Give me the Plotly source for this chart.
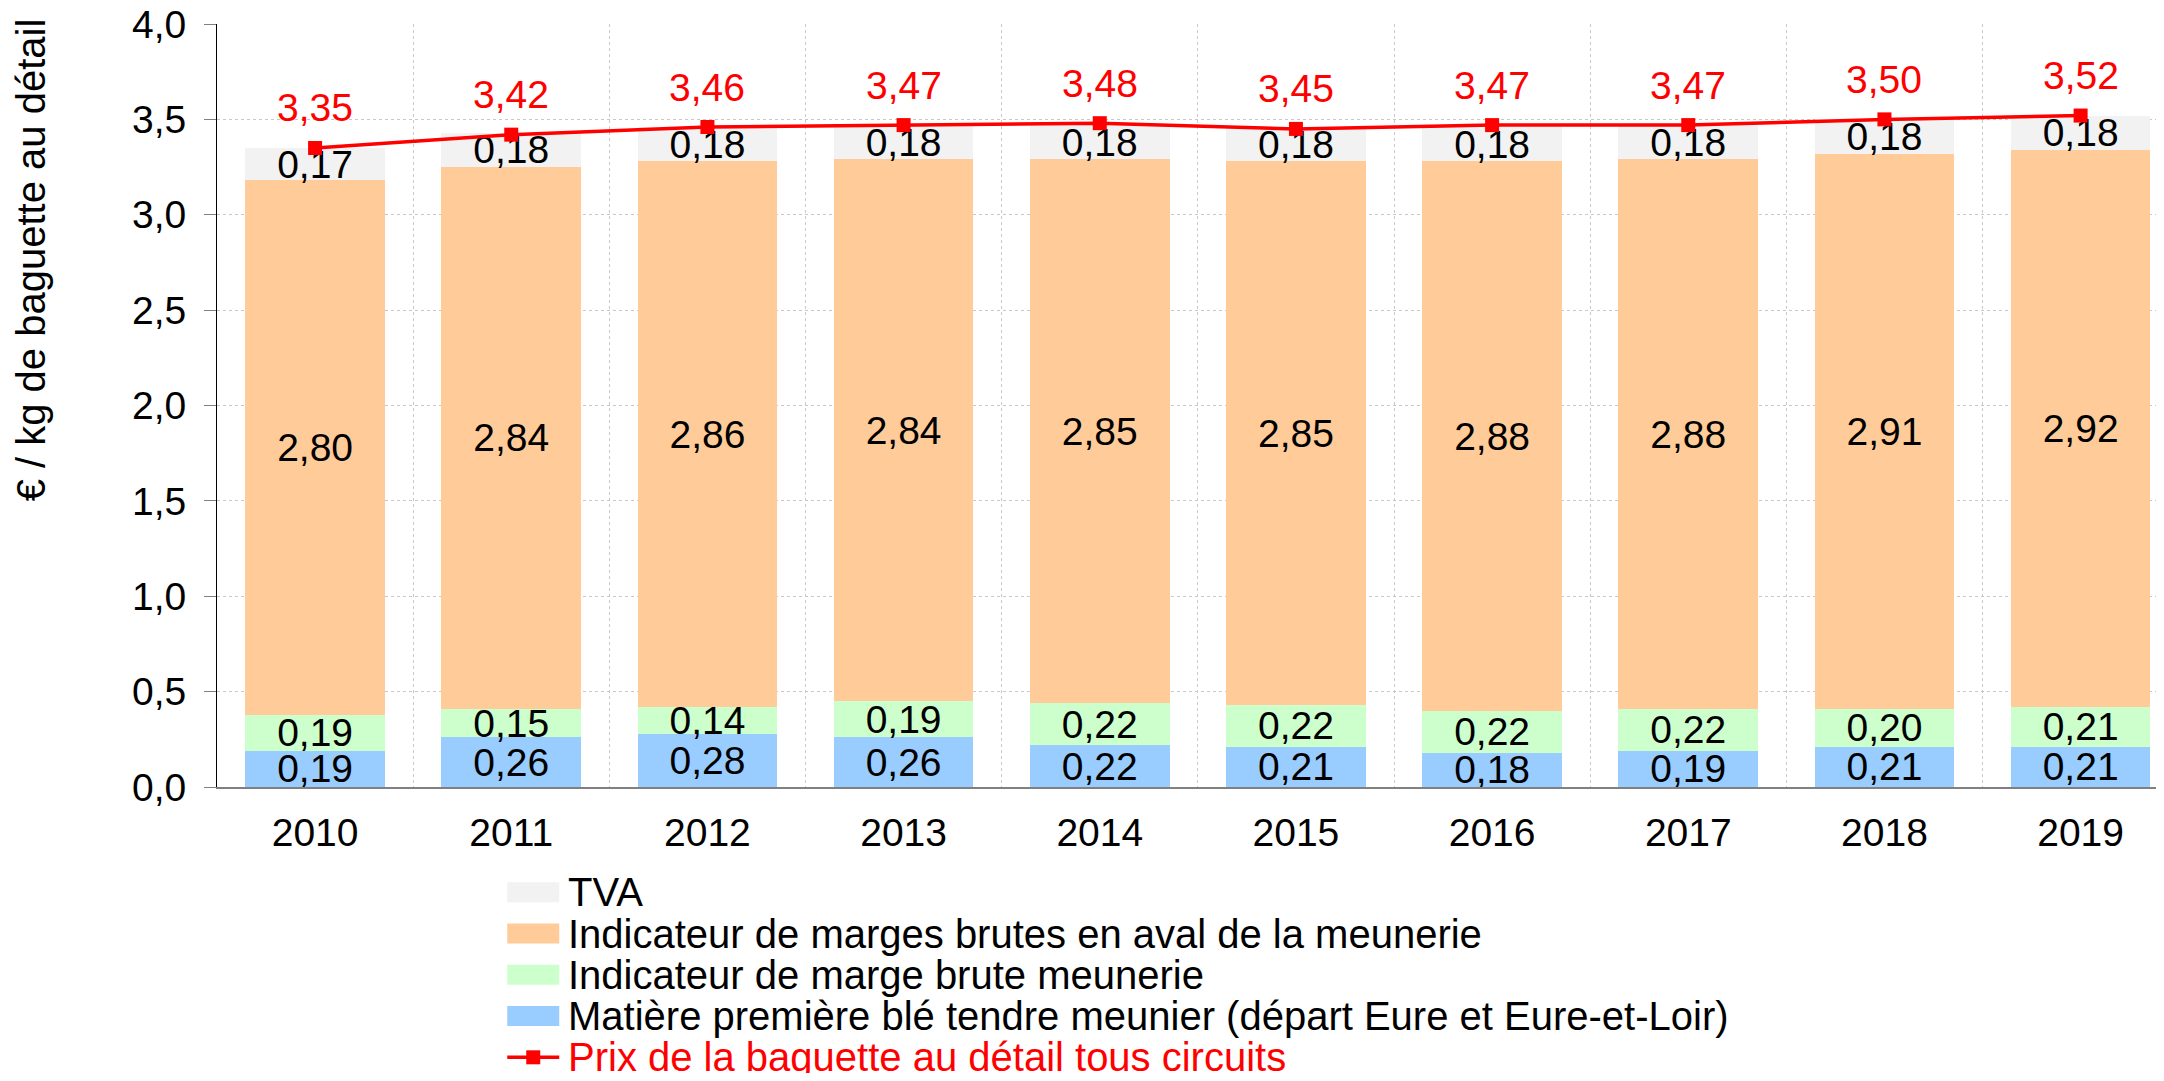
import plotly.graph_objects as go

years = ["2010", "2011", "2012", "2013", "2014", "2015", "2016", "2017", "2018", "2019"]
ble = [0.19, 0.26, 0.28, 0.26, 0.22, 0.21, 0.18, 0.19, 0.21, 0.21]
marge_meunerie = [0.19, 0.15, 0.14, 0.19, 0.22, 0.22, 0.22, 0.22, 0.20, 0.21]
marge_aval = [2.80, 2.84, 2.86, 2.84, 2.85, 2.85, 2.88, 2.88, 2.91, 2.92]
tva = [0.17, 0.18, 0.18, 0.18, 0.18, 0.18, 0.18, 0.18, 0.18, 0.18]
prix = [3.35, 3.42, 3.46, 3.47, 3.48, 3.45, 3.47, 3.47, 3.50, 3.52]

names = [
    "Matière première blé tendre meunier (départ Eure et Eure-et-Loir)",
    "Indicateur de marge brute meunerie",
    "Indicateur de marges brutes en aval de la meunerie",
    "TVA",
]
line_name = "Prix de la baguette au détail tous circuits"
colors = ["#99CCFF", "#CCFFCC", "#FFCC99", "#F2F2F2"]
RED = "#FF0000"
FONT = "Liberation Sans, Arial, sans-serif"
FS = 39      # ticks and data labels
FS_L = 40    # legend and axis title

# page body has an 8px margin: figure is offset by 8px
OFF = 8
W, H = 2148, 1065
PLOT_LEFT, PLOT_TOP, PLOT_BOTTOM = 216.7, 24, 787   # page coordinates
L = PLOT_LEFT - OFF
T = PLOT_TOP - OFF
B = H - (PLOT_BOTTOM - OFF)
R = 0
PW, PH = W - L - R, H - T - B
CAT_W = 196.2
X_END = -0.5 + PW / CAT_W


def px(x):  # page x -> paper
    return (x - PLOT_LEFT) / PW


def py(y):  # page y -> paper
    return (PLOT_BOTTOM - y) / PH


fig = go.Figure()
for vals, name, col in zip([ble, marge_meunerie, marge_aval, tva], names, colors):
    fig.add_trace(go.Bar(
        x=years, y=vals, name=name, marker=dict(color=col, line=dict(width=0)),
        text=[f"{v:.2f}".replace(".", ",") for v in vals],
        textposition="inside", insidetextanchor="middle", constraintext="none",
        textfont=dict(family=FONT, size=FS, color="black"),
        textangle=0, cliponaxis=False, showlegend=False,
    ))

fig.add_trace(go.Scatter(
    x=years, y=prix, name=line_name, mode="lines+markers",
    line=dict(color=RED, width=3.5),
    marker=dict(symbol="square", size=14, color=RED),
    showlegend=False, cliponaxis=False,
))

annotations = []
for i, p in enumerate(prix):
    annotations.append(dict(
        x=i, y=p, xref="x", yref="y", text=f"{p:.2f}".replace(".", ","),
        showarrow=False, yshift=40, yanchor="middle", xanchor="center",
        font=dict(family=FONT, size=FS, color=RED),
    ))

# y-axis title
annotations.append(dict(
    x=px(31), y=py(260), xref="paper", yref="paper",
    text="€ / kg de baguette au détail", textangle=-90, showarrow=False,
    xanchor="center", yanchor="middle",
    font=dict(family=FONT, size=FS_L, color="black"),
))

# legend drawn in the reference order
shapes = []
leg_items = [
    (names[3], colors[3], "bar", "black"),
    (names[2], colors[2], "bar", "black"),
    (names[1], colors[1], "bar", "black"),
    (names[0], colors[0], "bar", "black"),
    (line_name, RED, "line", RED),
]
row0, step = 892.3, 41.25
sx0, sx1 = 507, 559
for i, (nm, col, kind, tcol) in enumerate(leg_items):
    yc = row0 + i * step
    if kind == "bar":
        shapes.append(dict(type="rect", xref="paper", yref="paper",
                           x0=px(sx0), x1=px(sx1), y0=py(yc + 10), y1=py(yc - 10),
                           fillcolor=col, line=dict(width=0)))
    else:
        shapes.append(dict(type="line", xref="paper", yref="paper",
                           x0=px(sx0), x1=px(sx1), y0=py(yc), y1=py(yc),
                           line=dict(color=col, width=3.5)))
        shapes.append(dict(type="rect", xref="paper", yref="paper",
                           x0=px(526), x1=px(540), y0=py(yc + 7), y1=py(yc - 7),
                           fillcolor=col, line=dict(width=0)))
    annotations.append(dict(
        x=px(566), y=py(yc), xref="paper", yref="paper", text=nm,
        showarrow=False, xanchor="left", yanchor="middle",
        font=dict(family=FONT, size=FS_L, color=tcol),
    ))

fig.update_layout(
    width=W, height=H,
    margin=dict(l=L, r=R, t=T, b=B, pad=0, autoexpand=False),
    barmode="stack", bargap=0.288,
    plot_bgcolor="white", paper_bgcolor="white",
    font=dict(family=FONT, size=FS, color="black"),
    separators=", ",
    showlegend=False,
    annotations=annotations, shapes=shapes,
    xaxis=dict(
        type="category", range=[-0.5, X_END], tickson="boundaries",
        showgrid=True, gridcolor="#C8C8C8", griddash="dot", gridwidth=1,
        showline=True, linecolor="#808080", linewidth=2,
        ticks="", ticklabelstandoff=10, automargin=False,
        tickfont=dict(family=FONT, size=FS, color="black"),
    ),
    yaxis=dict(
        range=[0, 4], dtick=0.5, tickformat=".1f",
        showgrid=True, gridcolor="#C8C8C8", griddash="dot", gridwidth=1,
        zeroline=False, showline=True, linecolor="black", linewidth=1,
        ticks="outside", ticklen=12, tickcolor="#808080", tickwidth=1,
        ticklabelstandoff=10, ticklabeloverflow="allow", automargin=False,
        tickfont=dict(family=FONT, size=FS, color="black"),
    ),
)

fig.write_html("out.html")
